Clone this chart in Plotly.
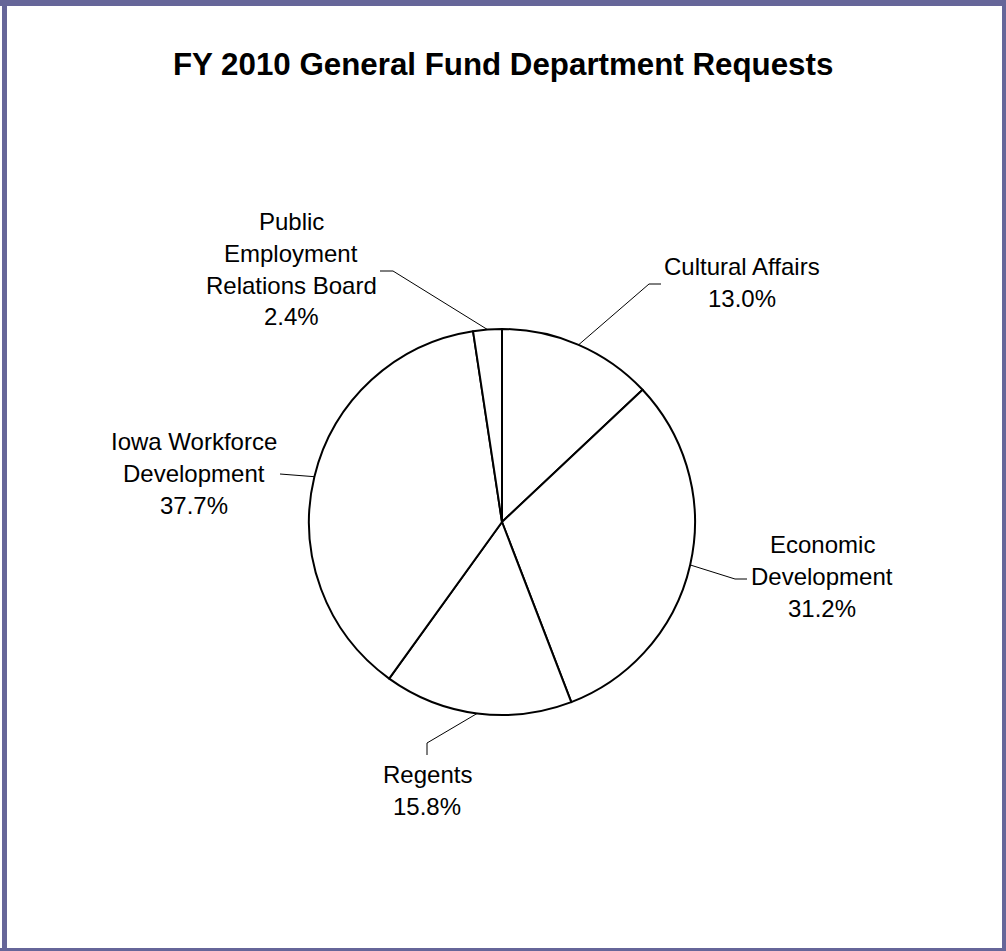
import math
import plotly.graph_objects as go

W, H = 1006, 951

# Department shares of the FY 2010 general fund requests (%)
departments = ["Cultural Affairs", "Economic Development", "Regents",
               "Iowa Workforce Development", "Public Employment Relations Board"]
shares = [13.0, 31.2, 15.8, 37.7, 2.4]
label_lines = [["Cultural Affairs"], ["Economic", "Development"], ["Regents"],
               ["Iowa Workforce", "Development"], ["Public", "Employment", "Relations Board"]]

# Pie geometry in pixels
CX, CY, R = 502, 522, 193

# Label block centres and leader-line elbow / end points (pixels)
label_pos = [(742, 282), (822, 576), (427, 790), (194, 473), (291, 269)]
leader_elbow = [(649, 284), (735, 579), (427, 743), (None, None), (393, 271)]
leader_end = [(661, 284), (747, 579), (427, 755), (280, 474), (380, 271)]
LINE_GAP = 32
FONT = "Liberation Sans, Arial, sans-serif"


def px(x):
    return x / W


def py(y):
    return 1 - y / H


fig = go.Figure()
fig.add_trace(go.Pie(
    labels=departments,
    values=shares,
    sort=False,
    direction="clockwise",
    rotation=0,
    textinfo="none",
    hoverinfo="label+percent",
    marker=dict(colors=["white"] * len(shares), line=dict(color="black", width=2)),
    domain=dict(x=[px(CX - R), px(CX + R)], y=[py(CY + R), py(CY - R)]),
    showlegend=False,
))

shapes = []
# Leader lines from each slice's mid-arc to its label
total = sum(shares)
cum = 0.0
for i, v in enumerate(shares):
    mid = (cum + v / 2) / total * 2 * math.pi
    cum += v
    ex, ey = CX + R * math.sin(mid), CY - R * math.cos(mid)
    pts = [(ex, ey)]
    if leader_elbow[i][0] is not None:
        pts.append(leader_elbow[i])
    pts.append(leader_end[i])
    path = "M " + " L ".join(f"{px(x)},{py(y)}" for x, y in pts)
    shapes.append(dict(type="path", xref="paper", yref="paper", path=path,
                       line=dict(color="black", width=1)))

# Frame around the chart
frame = "#666699"
for x0, y0, x1, y1 in [(0, 0, W, 6), (2, 0, 7, H), (1002, 0, W, H), (0, 948, W, H)]:
    shapes.append(dict(type="rect", xref="paper", yref="paper",
                       x0=px(x0), x1=px(x1), y0=py(y1), y1=py(y0),
                       fillcolor=frame, line=dict(width=0), layer="above"))

# Data labels: category name lines followed by the percentage
annotations = []
for i, (lx, ly) in enumerate(label_pos):
    lines = label_lines[i] + [f"{shares[i]:.1f}%"]
    n = len(lines)
    for k, txt in enumerate(lines):
        annotations.append(dict(
            x=px(lx), y=py(ly + (k - (n - 1) / 2) * LINE_GAP),
            xref="paper", yref="paper", text=txt,
            showarrow=False, xanchor="center", yanchor="middle",
            font=dict(family=FONT, size=24, color="black"),
        ))

annotations.append(dict(
    x=px(503), y=py(64), xref="paper", yref="paper",
    text="<b>FY 2010 General Fund Department Requests</b>",
    showarrow=False, xanchor="center", yanchor="middle",
    font=dict(family=FONT, size=31.3, color="black"),
))

fig.update_layout(
    width=W, height=H,
    margin=dict(l=0, r=0, t=0, b=0),
    paper_bgcolor="white",
    plot_bgcolor="white",
    shapes=shapes,
    annotations=annotations,
)

fig.write_html("out.html", config={"displayModeBar": False})
